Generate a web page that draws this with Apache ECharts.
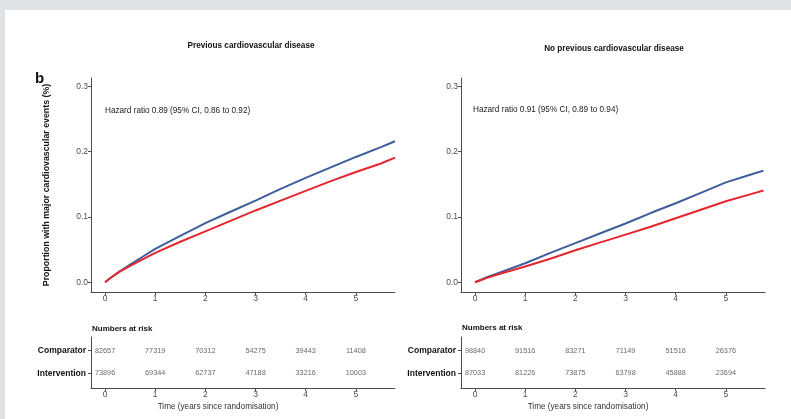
<!DOCTYPE html>
<html><head><meta charset="utf-8">
<script src="https://cdn.jsdelivr.net/npm/echarts@6/dist/echarts.min.js"></script>
<style>
html,body{margin:0;padding:0;}
#wrap{position:relative;width:791px;height:419px;background:#dfe3e6;overflow:hidden;}
#paper{position:absolute;left:5px;top:10px;right:0;bottom:0;background:#fff;}
#chart{position:absolute;left:0;top:0;width:791px;height:419px;}
</style></head><body>
<div id="wrap"><div id="paper"></div><div id="chart"></div></div>
<script>
// ---- data ----
const timesPrev = [0, 0.05, 0.1, 0.2, 0.3, 0.4, 0.5, 0.75, 1, 1.5, 2, 2.5, 3, 3.5, 4, 4.5, 5, 5.5, 5.78];
const prevComparator   = [0, 0.003, 0.006, 0.0115, 0.017, 0.022, 0.027, 0.039, 0.051, 0.071, 0.0905, 0.108, 0.125, 0.143, 0.160, 0.176, 0.192, 0.207, 0.216];
const prevIntervention = [0, 0.003, 0.006, 0.0115, 0.0165, 0.021, 0.025, 0.035, 0.045, 0.062, 0.078, 0.094, 0.110, 0.125, 0.140, 0.155, 0.169, 0.182, 0.191];

const timesNoPrev = [0, 0.25, 0.5, 1, 1.5, 2, 2.5, 3, 3.5, 4, 4.5, 5, 5.5, 5.75];
const noPrevComparator   = [0, 0.008, 0.015, 0.029, 0.045, 0.060, 0.075, 0.090, 0.106, 0.121, 0.137, 0.153, 0.165, 0.171];
const noPrevIntervention = [0, 0.007, 0.013, 0.024, 0.036, 0.049, 0.061, 0.073, 0.085, 0.098, 0.111, 0.124, 0.135, 0.1405];

const riskTimes = [0, 1, 2, 3, 4, 5];
const riskPrevComparator     = [82657, 77319, 70312, 54275, 39443, 11408];
const riskPrevIntervention   = [73896, 69344, 62737, 47188, 33216, 10003];
const riskNoPrevComparator   = [98840, 91516, 83271, 71149, 51516, 26376];
const riskNoPrevIntervention = [87033, 81226, 73875, 63798, 45888, 23694];

const xTicks = [0, 1, 2, 3, 4, 5];
const yTicks = [0, 0.1, 0.2, 0.3];
const rowNames = ['Intervention', 'Comparator'];

const panelTitles = ['Previous cardiovascular disease', 'No previous cardiovascular disease'];
const hazardTexts = ['Hazard ratio 0.89 (95% CI, 0.86 to 0.92)', 'Hazard ratio 0.91 (95% CI, 0.89 to 0.94)'];
const yTitle = 'Proportion with major cardiovascular events (%)';
const xTitle = 'Time (years since randomisation)';

// ---- chart ----
const FONT = '"Liberation Sans", Arial, sans-serif';
const AX = '#4d4d4d';
const BLUE = '#3e5d9a';
const RED = '#e5262e';

const chart = echarts.init(document.getElementById('chart'), null, {renderer: 'canvas'});

const zip = (a, b) => a.map((v, i) => [v, b[i]]);

function mainX(idx) {
  return {
    type: 'value', gridIndex: idx, min: -0.28, max: 5.78,
    axisLine: {show: true, onZero: false, lineStyle: {color: AX, width: 1}},
    axisTick: {show: true, customValues: xTicks, length: 3, lineStyle: {color: AX}},
    axisLabel: {customValues: xTicks, fontSize: 8.5, color: AX, margin: 2, fontFamily: FONT},
    splitLine: {show: false}
  };
}
function mainY(idx, withName) {
  const o = {
    type: 'value', gridIndex: idx, min: -0.015, max: 0.313,
    axisLine: {show: true, onZero: false, lineStyle: {color: AX, width: 1}},
    axisTick: {show: true, customValues: yTicks, length: 3, lineStyle: {color: AX}},
    axisLabel: {customValues: yTicks, fontSize: 8.5, color: AX, margin: 3, fontFamily: FONT,
                formatter: v => v.toFixed(1)},
    splitLine: {show: false}
  };
  if (withName) {
    o.name = yTitle; o.nameLocation = 'middle'; o.nameGap = 40; o.nameRotate = 90;
    o.nameTextStyle = {fontSize: 8.8, fontWeight: 'bold', color: '#111', fontFamily: FONT};
  }
  return o;
}
function riskX(idx) {
  return {
    type: 'value', gridIndex: idx, min: -0.28, max: 5.78,
    axisLine: {show: true, onZero: false, lineStyle: {color: AX, width: 1}},
    axisTick: {show: true, customValues: xTicks, length: 3, lineStyle: {color: AX}},
    axisLabel: {customValues: xTicks, fontSize: 8.5, color: AX, margin: 2, fontFamily: FONT},
    splitLine: {show: false}
  };
}
function riskY(idx) {
  return {
    type: 'value', gridIndex: idx, min: 0.35, max: 2.6,
    axisLine: {show: true, onZero: false, lineStyle: {color: AX, width: 1}},
    axisTick: {show: true, customValues: [1, 2], length: 3, lineStyle: {color: AX}},
    axisLabel: {customValues: [1, 2], fontSize: 8.5, fontWeight: 'bold', color: '#111', margin: 5,
                fontFamily: FONT, formatter: v => rowNames[Math.round(v) - 1]},
    splitLine: {show: false}
  };
}
function curve(idx, t, v, color) {
  return {
    type: 'line', xAxisIndex: idx, yAxisIndex: idx, data: zip(t, v),
    showSymbol: false, symbol: 'none', smooth: false,
    lineStyle: {color: color, width: 2}, silent: true, animation: false
  };
}
function riskSeries(idx, counts, row) {
  return {
    type: 'scatter', xAxisIndex: idx, yAxisIndex: idx, symbolSize: 0, silent: true, animation: false,
    data: riskTimes.map((t, i) => [t, row, counts[i]]),
    label: {show: true, position: 'inside', formatter: p => String(p.value[2]),
            fontSize: 7.3, color: '#444', fontFamily: FONT}
  };
}

const txt = (x, y, text, font, align, color) => ({
  type: 'text', x: x, y: y, silent: true,
  style: {text: text, font: font, textAlign: align || 'left', textVerticalAlign: 'middle', fill: color || '#111'}
});

chart.setOption({
  animation: false,
  backgroundColor: 'transparent',
  grid: [
    {left: 91, top: 78, width: 304, height: 214},
    {left: 461, top: 78, width: 304, height: 214},
    {left: 91, top: 337, width: 304, height: 51},
    {left: 461, top: 337, width: 304, height: 51}
  ],
  xAxis: [mainX(0), mainX(1), riskX(2), riskX(3)],
  yAxis: [mainY(0, true), mainY(1, false), riskY(2), riskY(3)],
  series: [
    curve(0, timesPrev, prevComparator, BLUE),
    curve(0, timesPrev, prevIntervention, RED),
    curve(1, timesNoPrev, noPrevComparator, BLUE),
    curve(1, timesNoPrev, noPrevIntervention, RED),
    riskSeries(2, riskPrevComparator, 2),
    riskSeries(2, riskPrevIntervention, 1),
    riskSeries(3, riskNoPrevComparator, 2),
    riskSeries(3, riskNoPrevIntervention, 1)
  ],
  graphic: [
    txt(251, 46, panelTitles[0], 'bold 8.2px ' + FONT, 'center'),
    txt(614, 49, panelTitles[1], 'bold 8.2px ' + FONT, 'center'),
    txt(35, 79, 'b', 'bold 15px ' + FONT, 'left'),
    txt(105, 111, hazardTexts[0], '8.2px ' + FONT, 'left', '#222'),
    txt(473, 110, hazardTexts[1], '8.2px ' + FONT, 'left', '#222'),
    txt(92, 329, 'Numbers at risk', 'bold 8px ' + FONT, 'left'),
    txt(462, 328, 'Numbers at risk', 'bold 8px ' + FONT, 'left'),
    txt(218, 407, xTitle, '8.2px ' + FONT, 'center', '#333'),
    txt(588, 407, xTitle, '8.2px ' + FONT, 'center', '#333')
  ]
});
</script>
</body></html>
